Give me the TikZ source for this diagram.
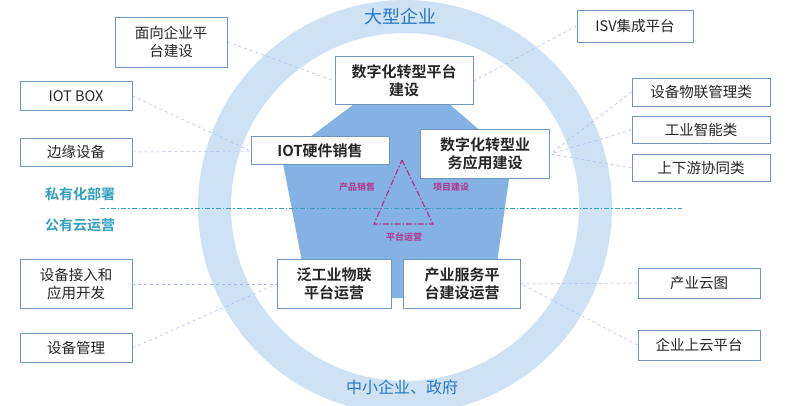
\documentclass[tikz,border=0pt]{standalone}
\usepackage{fontspec}
\setmainfont{Noto Sans CJK SC}
\newfontfamily\cjkb{Noto Sans CJK SC Bold}
\begin{document}
\begin{tikzpicture}[x=1pt,y=-1pt,
  inbox/.style={draw=boxline,fill=white,line width=1pt,inner sep=0pt,align=center,font=\cjkb\fontsize{15}{18}\selectfont,text=black!85},
  outbox/.style={draw=boxline,fill=white,line width=0.8pt,inner sep=0pt,align=center,font=\fontsize{14.5}{18}\selectfont,text=black!85},
  conn/.style={draw=ringc!80!blue,dashed,line width=0.5pt},
  tri/.style={draw=magc,line width=1.2pt,dash pattern=on 6pt off 2pt on 1.5pt off 2pt},
  trilab/.style={font=\cjkb\fontsize{9}{10}\selectfont,text=magc},
  sidelab/.style={font=\cjkb\fontsize{14}{16}\selectfont,text=tealc}]
\definecolor{ringc}{RGB}{206,226,244}
\definecolor{penc}{RGB}{112,165,224}
\definecolor{boxline}{RGB}{110,150,190}
\definecolor{magc}{RGB}{180,50,140}
\definecolor{tealc}{RGB}{50,160,190}
\definecolor{titc}{RGB}{40,120,200}
\useasboundingbox (0,0) rectangle (810,406);
\fill[white] (0,0) rectangle (810,406);
% ring
\fill[ringc,even odd rule] (405,207) circle (207) (405,207) circle (174);
\node[font=\fontsize{18}{20}\selectfont,text=titc] (t1) at (400,17) {大型企业};
\node[font=\fontsize{16}{18}\selectfont,text=titc] (t2) at (402,387) {中小企业、政府};
% pentagon
\fill[penc,opacity=0.85] (405,66) -- (512,158) -- (492,298) -- (309,298) -- (282,158) -- cycle;
% outer boxes
\node[outbox,minimum width=112,minimum height=50] (o1) at (171,42) {面向企业平\\台建设};
\node[outbox,minimum width=116,minimum height=32] (o2) at (635,26) {ISV集成平台};
\node[outbox,minimum width=112,minimum height=29] (o3) at (76,96) {IOT BOX};
\node[outbox,minimum width=112,minimum height=28] (o4) at (76,152) {边缘设备};
\node[outbox,minimum width=138,minimum height=28] (o5) at (701,92) {设备物联管理类};
\node[outbox,minimum width=138,minimum height=27] (o6) at (701,130) {工业智能类};
\node[outbox,minimum width=138,minimum height=27] (o7) at (701,168) {上下游协同类};
\node[outbox,minimum width=112,minimum height=49] (o8) at (76,284) {设备接入和\\应用开发};
\node[outbox,minimum width=112,minimum height=29] (o9) at (76,348) {设备管理};
\node[outbox,minimum width=122,minimum height=30] (o10) at (699,283) {产业云图};
\node[outbox,minimum width=122,minimum height=30] (o11) at (699,345) {企业上云平台};
% inner boxes
\node[inbox,minimum width=138,minimum height=48] (i1) at (404,81) {数字化转型平台\\建设};
\node[inbox,minimum width=138,minimum height=28] (i2) at (320,151) {IOT硬件销售};
\node[inbox,minimum width=129,minimum height=48] (i3) at (485,154) {数字化转型业\\务应用建设};
\node[inbox,minimum width=114,minimum height=49] (i4) at (334,284) {泛工业物联\\平台运营};
\node[inbox,minimum width=117,minimum height=49] (i5) at (462,284) {产业服务平\\台建设运营};
% connectors
\draw[conn] (o1.east) -- (i1.west);
\draw[conn] (o2.west) -- (i1.east);
\draw[conn] (o3.east) -- (i2.west);
\draw[conn] (o4.east) -- (i2.west);
\draw[conn] (o5.west) -- (i3.east);
\draw[conn] (o6.west) -- (i3.east);
\draw[conn] (o7.west) -- (i3.east);
\draw[conn] (o8.east) -- (i4.west);
\draw[conn] (o9.east) -- (i4.west);
\draw[conn] (o10.west) -- (i5.east);
\draw[conn] (o11.west) -- (i5.east);
% private / public line
\coordinate (l1) at (100,208);
\coordinate (l2) at (682,208);
\draw[tealc,line width=1pt,dash pattern=on 5pt off 2pt on 1.5pt off 2pt] (l1) -- (l2);
\node[sidelab] (s1) at (80,194) {私有化部署};
\node[sidelab] (s2) at (80,225) {公有云运营};
% triangle
\coordinate (ta) at (402,160);
\coordinate (tb) at (374,224);
\coordinate (tc) at (433,224);
\draw[tri] (ta) -- (tc) -- (tb) -- cycle;
\node[trilab] (la) at (357,187) {产品销售};
\node[trilab] (lb) at (451,187) {项目建设};
\node[trilab] (lc) at (404,237) {平台运营};
\end{tikzpicture}
\end{document}
